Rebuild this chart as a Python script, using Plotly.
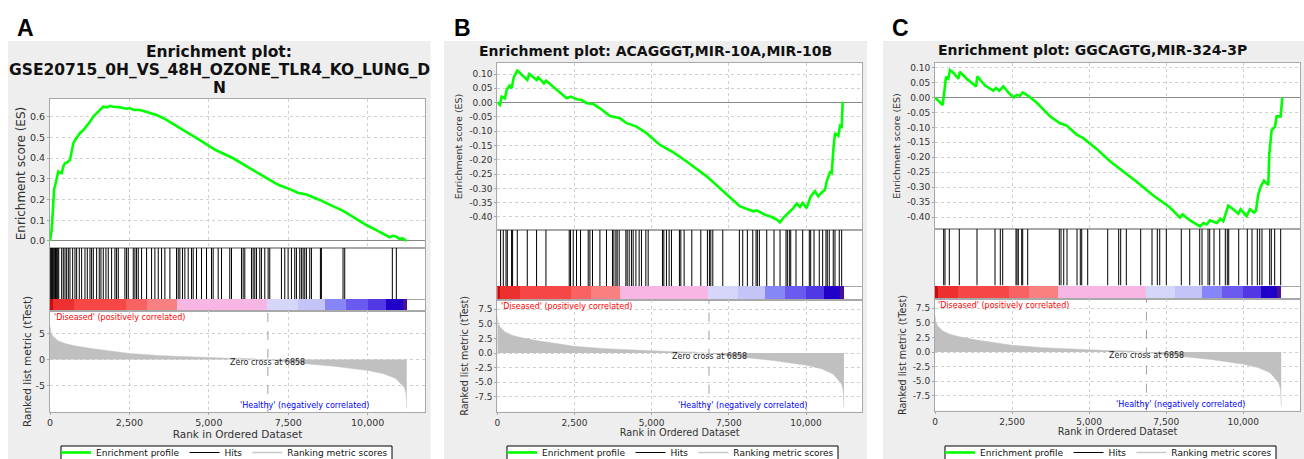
import plotly.graph_objects as go

W, H = 1304, 459

# ---------------- data ----------------
panel_letters = ["A", "B", "C"]
title_lines_A = ["Enrichment plot:", "GSE20715_0H_VS_48H_OZONE_TLR4_KO_LUNG_D", "N"]
title_B = "Enrichment plot: ACAGGGT,MIR-10A,MIR-10B"
title_C = "Enrichment plot: GGCAGTG,MIR-324-3P"

es_rank_A = [0, 30, 52, 80, 105, 130, 157, 200, 262, 300, 367, 420, 472, 550, 629, 680, 734, 800,
             943, 1050, 1153, 1260, 1363, 1470, 1572, 1677, 1780, 1887, 2000, 2201, 2400, 2516,
             2650, 2830, 3100, 3354, 3600, 3878, 4300, 4717, 5200, 5765, 6300, 6813, 7200, 7547,
             7800, 8071, 8300, 8491, 8800, 9224, 9500, 9958, 10300, 10692, 10780, 10902, 11000,
             11100, 11216]
es_val_A = [0.0, 0.03, 0.053, 0.12, 0.198, 0.25, 0.265, 0.30, 0.335, 0.33, 0.327, 0.36, 0.375, 0.38,
            0.391, 0.43, 0.471, 0.49, 0.52, 0.535, 0.552, 0.575, 0.60, 0.615, 0.632, 0.648, 0.645,
            0.651, 0.648, 0.645, 0.638, 0.64, 0.632, 0.632, 0.62, 0.608, 0.59, 0.565, 0.525, 0.487,
            0.44, 0.399, 0.35, 0.302, 0.27, 0.25, 0.233, 0.224, 0.21, 0.198, 0.175, 0.145, 0.12,
            0.077, 0.05, 0.018, 0.025, 0.021, 0.01, 0.012, 0.0]

es_rank_B = [0, 86, 140, 248, 302, 410, 464, 540, 648, 788, 972, 1037, 1274, 1328, 1512, 1577, 1922,
             2246, 2376, 2570, 2732, 2894, 3110, 3326, 3650, 3974, 4190, 4514, 4838, 5270, 5702,
             6134, 6782, 7322, 7862, 8294, 8402, 8672, 8888, 9050, 9158, 9266, 9428, 9590, 9698,
             9806, 9892, 10022, 10151, 10292, 10400, 10508, 10616, 10670, 10778, 10832, 10886,
             10940, 11048, 11102, 11156, 11188]
es_val_B = [0.0, -0.008, 0.021, 0.015, 0.044, 0.062, 0.05, 0.091, 0.112, 0.097, 0.079, 0.10, 0.079,
            0.088, 0.067, 0.077, 0.044, 0.015, 0.021, 0.012, 0.009, -0.002, -0.005, -0.02, -0.047,
            -0.055, -0.072, -0.084, -0.107, -0.148, -0.174, -0.206, -0.258, -0.31, -0.363, -0.38,
            -0.377, -0.392, -0.40, -0.409, -0.419, -0.403, -0.386, -0.369, -0.353, -0.365, -0.351,
            -0.369, -0.328, -0.31, -0.328, -0.314, -0.305, -0.276, -0.244, -0.247, -0.165, -0.107,
            -0.116, -0.081, -0.084, 0.003]

es_rank_C = [0, 108, 249, 292, 324, 357, 432, 486, 595, 757, 811, 1027, 1330, 1373, 1622, 1892, 1978,
             2086, 2216, 2432, 2562, 2649, 2757, 2843, 2973, 3081, 3297, 3730, 4054, 4270, 4595,
             4811, 5243, 5676, 6108, 6541, 7081, 7622, 7946, 8032, 8162, 8270, 8595, 8703, 8811,
             8919, 9135, 9265, 9351, 9514, 9676, 9838, 9914, 10108, 10216, 10346, 10411, 10486,
             10562, 10670, 10811, 10843, 10919, 11027, 11081, 11211, 11265]
es_val_C = [0.0, -0.011, -0.025, 0.011, 0.04, 0.069, 0.063, 0.092, 0.083, 0.063, 0.086, 0.063, 0.037,
            0.071, 0.04, 0.023, 0.032, 0.023, 0.037, 0.011, 0.0, 0.009, 0.006, 0.017, 0.009, 0.0,
            -0.017, -0.063, -0.086, -0.094, -0.124, -0.136, -0.172, -0.213, -0.247, -0.282, -0.328,
            -0.368, -0.402, -0.391, -0.402, -0.411, -0.431, -0.42, -0.425, -0.411, -0.42, -0.406,
            -0.414, -0.362, -0.374, -0.389, -0.374, -0.397, -0.374, -0.385, -0.379, -0.324, -0.299,
            -0.278, -0.293, -0.19, -0.109, -0.098, -0.063, -0.063, 0.0]

hits_A = [0, 25, 50, 75, 100, 125, 150, 175, 200, 225, 250, 275, 367, 419, 472, 524, 577, 629, 713,
          786, 839, 922, 996, 1101, 1174, 1258, 1310, 1363, 1468, 1551, 1604, 1677, 1761, 1834, 1939,
          2044, 2096, 2149, 2358, 2411, 2463, 2621, 2673, 2725, 2778, 2883, 3040, 3197, 3302, 3407,
          3512, 3616, 3774, 3983, 4036, 4088, 4172, 4245, 4350, 4455, 4507, 4612, 4769, 4927, 5084,
          5136, 5294, 5398, 5660, 5713, 6027, 6080, 6132, 6342, 6394, 6447, 6499, 6604, 6656, 6761,
          6866, 6918, 7285, 7390, 7495, 7600, 7704, 7757, 7862, 7914, 7967, 8019, 8071, 8176, 8229,
          8512, 8543, 9224, 9277, 10776, 10902]
hits_B = [107, 194, 282, 324, 463, 495, 647, 971, 1272, 1576, 2330, 2372, 2460, 2566, 2696, 2945,
          3000, 3084, 3324, 3537, 3731, 3777, 3842, 3883, 3948, 4165, 4207, 4272, 4346, 4401, 4489,
          4595, 4670, 4812, 4887, 5350, 5395, 5479, 5566, 5641, 5900, 5945, 6052, 6301, 6592, 6806,
          6871, 6916, 6981, 7304, 7841, 7951, 8100, 8275, 8382, 8424, 8489, 8728, 8964, 9159, 9353,
          9395, 9460, 9505, 9676, 9893, 10107, 10152, 10259, 10430, 10540, 10647, 10689, 10754,
          10883, 10939, 11078, 11155]
hits_C = [282, 324, 464, 788, 1362, 1946, 2118, 2196, 2627, 2660, 2702, 2812, 2845, 3007, 4032, 4087,
          4175, 4282, 4606, 4713, 4759, 4953, 5602, 5958, 6023, 6205, 6672, 7039, 7211, 7289, 7503,
          7989, 8262, 8586, 8661, 8855, 8910, 9050, 9235, 9416, 9481, 9527, 9851, 10130, 10282,
          10454, 10532, 10606, 10856, 10908, 11018, 11213]

metric_rank = [0, 15, 30, 100, 250, 500, 800, 1300, 1800, 2500, 3500, 4600, 5600, 6400, 6500, 6858,
               7200, 7860, 8940, 10020, 10500, 10880, 11150, 11210, 11228, 11230]
metric_val = [6.3, 5.4, 5.0, 4.4, 3.6, 3.0, 2.6, 2.1, 1.7, 1.15, 0.75, 0.45, 0.25, 0.15, 0.05, 0.0,
              -0.3, -0.7, -1.27, -2.1, -2.7, -3.6, -5.3, -6.5, -8.0, -9.3]
zero_cross = 6858

cbar_edges = [0, 110, 750, 2400, 3050, 4000, 6840, 7800, 8670, 9320, 10000, 10580, 11100, 11230]

x_tick_vals = [0, 2500, 5000, 7500, 10000]
x_tick_text = ["0", "2,500", "5,000", "7,500", "10,000"]
es_tick_vals_A = [0.0, 0.1, 0.2, 0.3, 0.4, 0.5, 0.6]
es_tick_text_A = ["0.0", "0.1", "0.2", "0.3", "0.4", "0.5", "0.6"]
es_tick_vals_BC = [-0.40, -0.35, -0.30, -0.25, -0.20, -0.15, -0.10, -0.05, 0.00, 0.05, 0.10]
es_tick_text_BC = ["-0.40", "-0.35", "-0.30", "-0.25", "-0.20", "-0.15", "-0.10", "-0.05",
                   "0.00", "0.05", "0.10"]
met_tick_vals_A = [-5, 0, 5]
met_tick_text_A = ["-5", "0", "5"]
met_tick_vals_BC = [-7.5, -5.0, -2.5, 0.0, 2.5, 5.0, 7.5]
met_tick_text_BC = ["-7.5", "-5.0", "-2.5", "0.0", "2.5", "5.0", "7.5"]

name_es = "Enrichment profile"
name_hits = "Hits"
name_metric = "Ranking metric scores"
txt_zero = "Zero cross at " + str(zero_cross)
txt_pos = "'Diseased' (positively correlated)"
txt_neg = "'Healthy' (negatively correlated)"
title_es_axis = "Enrichment score (ES)"
title_met_axis = "Ranked list metric (tTest)"
title_x_axis = "Rank in Ordered Dataset"

# ---------------- styles ----------------
cbar_colors = ["#d40808", "#ec3030", "#f64646", "#f86262", "#f98080", "#f8b6e4", "#d6d6fb",
               "#c4c4f9", "#8686f8", "#6a5af0", "#5038e4", "#2000c8", "#4a1098"]
GREEN = "#00ff00"
FONT = "DejaVu Sans"
AXCOL = "#a8a8a8"
GRIDCOL = "#d0d0d0"
TXT = "#333333"

es_data = [(es_rank_A, es_val_A), (es_rank_B, es_val_B), (es_rank_C, es_val_C)]
hits_data = [hits_A, hits_B, hits_C]
es_ticks = [(es_tick_vals_A, es_tick_text_A), (es_tick_vals_BC, es_tick_text_BC),
            (es_tick_vals_BC, es_tick_text_BC)]
met_ticks = [(met_tick_vals_A, met_tick_text_A), (met_tick_vals_BC, met_tick_text_BC),
             (met_tick_vals_BC, met_tick_text_BC)]

# geometry in pixels
geo = [
    dict(x=(50, 425), es=(99, 248), hits=(248, 299), cb=(299, 311), met=(311, 412),
         xmax=11804, es_rng=(-0.034, 0.685), met_rng=(-10.0, 9.26),
         tick=9.5, t_es=12, t_met=10.5, t_x=10.5, ann=8, leg_x=56, leg_font=9,
         leg_box=(61, 392), so_es=1, so_met=1, letter_x=15),
    dict(x=(497.3, 862), es=(63, 230), hits=(230, 286), cb=(286, 300), met=(300, 411.7),
         xmax=11814, es_rng=(-0.4455, 0.1385), met_rng=(-10.07, 9.1),
         tick=9, t_es=9.5, t_met=9.6, t_x=9.7, ann=8, leg_x=502, leg_font=9,
         leg_box=(507, 838), so_es=4, so_met=4, letter_x=452),
    dict(x=(935, 1300), es=(63, 229), hits=(229, 285.5), cb=(285.5, 299.3), met=(299.3, 410.7),
         xmax=11839, es_rng=(-0.44, 0.1155), met_rng=(-10.07, 9.04),
         tick=9, t_es=9.5, t_met=9.6, t_x=9.7, ann=8, leg_x=940, leg_font=9,
         leg_box=(945, 1276), so_es=4, so_met=4, letter_x=890),
]


def fx(p):
    return p / W


def fy(p):
    return 1 - p / H


def ydom(t):
    return [fy(t[1]), fy(t[0])]


fig = go.Figure()
layout = {}
shapes = []
annotations = []


def akey(letter, n):
    return f"{letter}axis" if n == 1 else f"{letter}axis{n}"


def aref(letter, n):
    return letter if n == 1 else f"{letter}{n}"


for i, g in enumerate(geo):
    b = 4 * i
    n_es, n_hit, n_cb, n_met = b + 1, b + 2, b + 3, b + 4
    lg = "legend" if i == 0 else f"legend{i + 1}"
    xdom = [fx(g["x"][0]), fx(g["x"][1])]
    xr = [0, g["xmax"]]

    # ----- ES axes -----
    layout[akey("x", n_es)] = dict(domain=xdom, range=xr, anchor=aref("y", n_es),
                                   showticklabels=False, tickvals=x_tick_vals, ticks="",
                                   showgrid=True, gridcolor=GRIDCOL, griddash="dot",
                                   zeroline=False, showline=True, mirror=True, linecolor=AXCOL)
    layout[akey("y", n_es)] = dict(domain=ydom(g["es"]), range=list(g["es_rng"]),
                                   anchor=aref("x", n_es), tickvals=es_ticks[i][0],
                                   ticktext=es_ticks[i][1], ticks="outside", ticklen=2,
                                   tickcolor=AXCOL, tickfont=dict(size=g["tick"], color=TXT, family=FONT),
                                   showgrid=True, gridcolor=GRIDCOL, griddash="dot",
                                   zeroline=True, zerolinecolor="#8a8a8a", zerolinewidth=1,
                                   showline=True, mirror=True, linecolor=AXCOL,
                                   title=dict(text=title_es_axis, standoff=g["so_es"],
                                              font=dict(size=g["t_es"], color=TXT, family=FONT)))
    # ----- hits axes -----
    layout[akey("x", n_hit)] = dict(domain=xdom, range=xr, anchor=aref("y", n_hit),
                                    showticklabels=False, ticks="", showgrid=False, zeroline=False,
                                    showline=True, mirror=True, linecolor=AXCOL)
    layout[akey("y", n_hit)] = dict(domain=ydom(g["hits"]), range=[0, 1], anchor=aref("x", n_hit),
                                    showticklabels=False, ticks="", showgrid=False, zeroline=False,
                                    showline=True, mirror=True, linecolor=AXCOL)
    # ----- colour bar axes -----
    layout[akey("x", n_cb)] = dict(domain=xdom, range=xr, anchor=aref("y", n_cb),
                                   showticklabels=False, ticks="", showgrid=False, zeroline=False,
                                   showline=True, mirror=False, linecolor=AXCOL)
    layout[akey("y", n_cb)] = dict(domain=ydom(g["cb"]), range=[0, 1], anchor=aref("x", n_cb),
                                   showticklabels=False, ticks="", showgrid=False, zeroline=False,
                                   showline=True, mirror=True, linecolor=AXCOL)
    # ----- metric axes -----
    layout[akey("x", n_met)] = dict(domain=xdom, range=xr, anchor=aref("y", n_met),
                                    tickvals=x_tick_vals, ticktext=x_tick_text, ticks="outside",
                                    ticklen=2, tickcolor=AXCOL,
                                    tickfont=dict(size=g["tick"], color=TXT, family=FONT),
                                    showgrid=True, gridcolor=GRIDCOL, griddash="dot", zeroline=False,
                                    showline=True, mirror=True, linecolor=AXCOL,
                                    title=dict(text=title_x_axis, standoff=2,
                                               font=dict(size=g["t_x"], color=TXT, family=FONT)))
    layout[akey("y", n_met)] = dict(domain=ydom(g["met"]), range=list(g["met_rng"]),
                                    anchor=aref("x", n_met), tickvals=met_ticks[i][0],
                                    ticktext=met_ticks[i][1], ticks="outside", ticklen=2,
                                    tickcolor=AXCOL, tickfont=dict(size=g["tick"], color=TXT, family=FONT),
                                    showgrid=True, gridcolor=GRIDCOL, griddash="dot", zeroline=False,
                                    showline=True, mirror=True, linecolor=AXCOL,
                                    title=dict(text=title_met_axis, standoff=g["so_met"],
                                               font=dict(size=g["t_met"], color=TXT, family=FONT)))

    # ----- traces -----
    er, ev = es_data[i]
    fig.add_trace(go.Scatter(x=metric_rank, y=metric_val, mode="lines", fill="tozeroy",
                             fillcolor="#c0c0c0", line=dict(color="#c0c0c0", width=0.5),
                             showlegend=False, legend=lg, hoverinfo="skip",
                             xaxis=aref("x", n_met), yaxis=aref("y", n_met)))
    fig.add_trace(go.Scatter(x=er, y=ev, mode="lines", line=dict(color=GREEN, width=2.6),
                             name=name_es, legend=lg, showlegend=True,
                             xaxis=aref("x", n_es), yaxis=aref("y", n_es)))
    hx, hy = [], []
    for h in hits_data[i]:
        hx += [h, h, None]
        hy += [0, 1, None]
    fig.add_trace(go.Scatter(x=hx, y=hy, mode="lines", line=dict(color="#000000", width=1),
                             name=name_hits, legend=lg, showlegend=True,
                             xaxis=aref("x", n_hit), yaxis=aref("y", n_hit)))
    mids = [(cbar_edges[k] + cbar_edges[k + 1]) / 2 for k in range(len(cbar_edges) - 1)]
    wids = [cbar_edges[k + 1] - cbar_edges[k] for k in range(len(cbar_edges) - 1)]
    fig.add_trace(go.Bar(x=mids, y=[1] * len(mids), width=wids, base=0,
                         marker=dict(color=cbar_colors, line=dict(width=0)),
                         showlegend=False, legend=lg, hoverinfo="skip",
                         xaxis=aref("x", n_cb), yaxis=aref("y", n_cb)))
    fig.add_trace(go.Scatter(x=[None], y=[None], mode="lines", line=dict(color="#c8c8c8", width=1.5),
                             name=name_metric, legend=lg, showlegend=True,
                             xaxis=aref("x", n_met), yaxis=aref("y", n_met)))

    # zero-cross line
    shapes.append(dict(type="line", xref=aref("x", n_met), yref=aref("y", n_met) + " domain",
                       x0=zero_cross, x1=zero_cross, y0=0, y1=1,
                       line=dict(color="#a0a0a0", width=1, dash="dash")))

    # annotations inside metric plot
    annotations.append(dict(xref=aref("x", n_met), yref=aref("y", n_met), x=zero_cross, y=-0.6,
                            text=txt_zero, showarrow=False, xanchor="center", yanchor="middle",
                            font=dict(size=g["ann"], color="#222222", family=FONT)))
    annotations.append(dict(xref=aref("x", n_met) + " domain", yref=aref("y", n_met) + " domain",
                            x=0.004, y=1.0, text=txt_pos, showarrow=False, xanchor="left",
                            yanchor="top", font=dict(size=g["ann"], color="#ff0000", family=FONT)))
    annotations.append(dict(xref=aref("x", n_met) + " domain", yref=aref("y", n_met) + " domain",
                            x=0.855, y=0.0, text=txt_neg, showarrow=False, xanchor="right",
                            yanchor="bottom", font=dict(size=g["ann"], color="#0000ff", family=FONT)))

    # panel letter
    annotations.append(dict(xref="paper", yref="paper", x=fx(g["letter_x"]), y=fy(28),
                            text=panel_letters[i], showarrow=False, xanchor="left", yanchor="middle",
                            font=dict(size=23, color="#000000", family="Liberation Sans", weight="bold")))

    # legend (box drawn as a shape, cut by the lower edge as in the original)
    layout[lg] = dict(x=fx(g["leg_x"]), y=fy(438), xanchor="left", yanchor="top",
                      orientation="h", bgcolor="rgba(0,0,0,0)", borderwidth=0,
                      itemwidth=30, tracegroupgap=0,
                      font=dict(size=g["leg_font"], color="#111111", family=FONT))
    shapes.append(dict(type="rect", xref="paper", yref="paper",
                       x0=fx(g["leg_box"][0]), x1=fx(g["leg_box"][1]), y0=fy(475), y1=fy(446),
                       fillcolor="#ffffff", line=dict(color="#000000", width=1), layer="below"))

# titles
for k, (txt, ypx) in enumerate(zip(title_lines_A, [52, 70, 87.5])):
    annotations.append(dict(xref="paper", yref="paper", x=fx(219), y=fy(ypx), text=txt,
                            showarrow=False, xanchor="center", yanchor="middle",
                            font=dict(size=15.5, color="#111111", family=FONT, weight="bold")))
annotations.append(dict(xref="paper", yref="paper", x=fx(655), y=fy(51), text=title_B,
                        showarrow=False, xanchor="center", yanchor="middle",
                        font=dict(size=14, color="#111111", family=FONT, weight="bold")))
annotations.append(dict(xref="paper", yref="paper", x=fx(1092), y=fy(50), text=title_C,
                        showarrow=False, xanchor="center", yanchor="middle",
                        font=dict(size=14, color="#111111", family=FONT, weight="bold")))

# white gaps around the grey panels (paper background is the panel grey)
for (x0, x1, y0, y1) in [(0, W, 0, 41), (0, 8, 0, H), (430.5, 444, 0, H), (867, 883, 0, H)]:
    shapes.insert(0, dict(type="rect", xref="paper", yref="paper", x0=fx(x0), x1=fx(x1),
                          y0=fy(y1), y1=fy(y0), fillcolor="#ffffff", line=dict(width=0),
                          layer="below"))

fig.update_layout(
    width=W, height=H,
    margin=dict(l=0, r=0, t=0, b=0, autoexpand=False),
    paper_bgcolor="#eeeeee", plot_bgcolor="#ffffff",
    font=dict(family=FONT, color=TXT),
    shapes=shapes, annotations=annotations,
    bargap=0,
    **layout,
)

fig.write_html("out.html", config={"displayModeBar": False},
               post_script="document.body.style.margin='0px';")
